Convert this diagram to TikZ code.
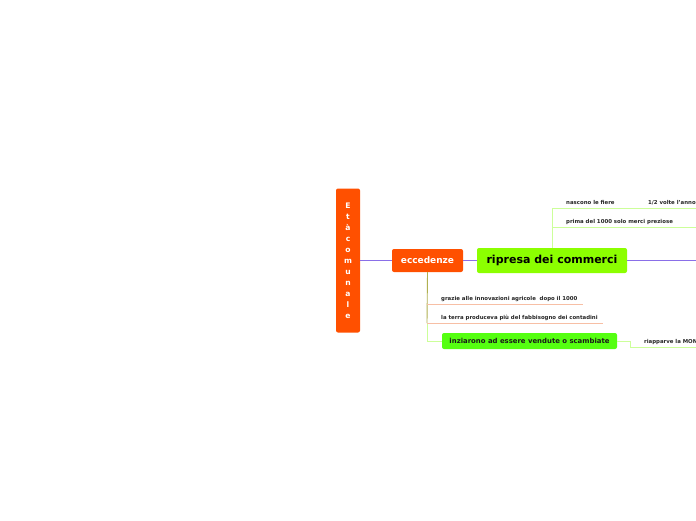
\documentclass[tikz,border=0pt]{standalone}
\usepackage{fontspec}
\setmainfont{DejaVu Sans}
\definecolor{orng}{HTML}{FF5000}
\definecolor{limeg}{HTML}{8CFF00}
\definecolor{brightg}{HTML}{55FF11}
\definecolor{purp}{HTML}{8A6FE8}
\definecolor{lgreen}{HTML}{CCFF99}
\definecolor{salmon}{HTML}{F7BFA5}
\definecolor{oliv}{HTML}{B0B050}
\begin{document}
\begin{tikzpicture}[x=1pt,y=-1pt,
  box/.style={rounded corners=2pt, inner sep=0pt, font=\bfseries},
  small/.style={anchor=base west, inner sep=0pt, font=\fontsize{5.4}{6}\selectfont\bfseries, text=black!85},
  mainline/.style={draw=purp, line width=0.9pt},
  subline/.style={draw=lgreen, line width=0.9pt},
  saline/.style={draw=salmon, line width=0.9pt}]
\useasboundingbox (0,0) rectangle (696,520);
\clip (0,0) rectangle (696,520);
\fill[white] (0,0) rectangle (696,520);
% nodes
\node[box, fill=orng, minimum width=24pt, minimum height=144pt, text=white, align=center,
  font=\fontsize{7.6}{11}\selectfont\bfseries] (eta) at (348,260.5)
  {E\\t\\à\\c\\o\\m\\u\\n\\a\\l\\e};
\node[box, fill=orng, minimum width=71pt, minimum height=23pt, text=white,
  font=\fontsize{9}{10}\selectfont\bfseries] (ecc) at (427.5,260.5) {eccedenze};
\node[box, fill=limeg, minimum width=150pt, minimum height=25pt, text=black,
  font=\fontsize{11}{12}\selectfont\bfseries] (rip) at (552,260.5) {ripresa dei commerci};
\node[box, fill=brightg, minimum width=175pt, minimum height=16pt, text=black!90,
  font=\fontsize{6.9}{7}\selectfont\bfseries] (inz) at (529.5,341) {inziarono ad essere vendute o scambiate};
% coordinates
\coordinate (rEnd) at (696,260.5);
\coordinate (b1) at (552,208);
\coordinate (b1e) at (696,208);
\coordinate (b2) at (552,227);
\coordinate (b2e) at (696,227);
\coordinate (c1) at (427,304);
\coordinate (c1e) at (583,304);
\coordinate (c2) at (427,323);
\coordinate (c2e) at (603,323);
\coordinate (c3) at (427,341);
\coordinate (d1) at (630,341);
\coordinate (d2) at (630,347);
\coordinate (d2e) at (696,347);
% main connectors
\draw[mainline] (eta.east) -- (ecc.west);
\draw[mainline] (ecc.east) -- (rip.west);
\draw[mainline] (rip.east) -- (rEnd);
% upper branches
\draw[subline] (rip.north) -- (b1) -- (b1e);
\draw[subline] (b2) -- (b2e);
\node[small] (t1) at (566,204.5) {nascono le fiere};
\node[small] (t1b) at (648,204.5) {1/2 volte l'anno};
\node[small] (t2) at (566,223.5) {prima del 1000 solo merci preziose};
% lower branches
\draw[draw=oliv, line width=0.9pt] (ecc.south) -- (c2);
\draw[subline] (c2) -- (c3) -- (inz.west);
\draw[saline] (c1) -- (c1e);
\draw[saline] (c2) -- (c2e);
\node[small] (t3) at (441,300) {grazie alle innovazioni agricole\ \ dopo il 1000};
\node[small] (t4) at (441,319) {la terra produceva più del fabbisogno dei contadini};
\draw[subline] (inz.east) -- (d1) -- (d2) -- (d2e);
\node[small] (t5) at (644,343) {riapparve la MONETA};
\end{tikzpicture}
\end{document}
